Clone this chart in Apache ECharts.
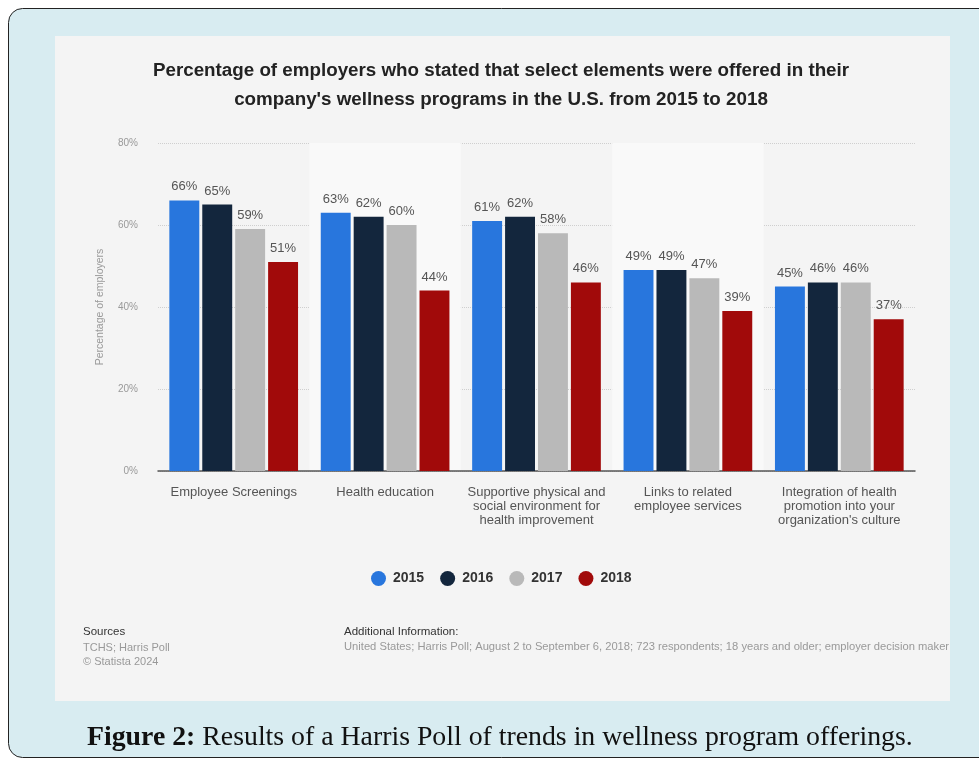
<!DOCTYPE html>
<html>
<head>
<meta charset="utf-8">
<script src="https://cdn.jsdelivr.net/npm/echarts@6/dist/echarts.min.js"></script>
<style>
html,body{margin:0;padding:0;background:#fff;}
#c{width:979px;height:761px;}
</style>
</head>
<body>
<div id="c"></div>
<script>
const categories = [
  "Employee Screenings",
  "Health education",
  "Supportive physical and\nsocial environment for\nhealth improvement",
  "Links to related\nemployee services",
  "Integration of health\npromotion into your\norganization's culture"
];
const seriesNames = ["2015", "2016", "2017", "2018"];
const values2015 = [66, 63, 61, 49, 45];
const values2016 = [65, 62, 62, 49, 46];
const values2017 = [59, 60, 58, 47, 46];
const values2018 = [51, 44, 46, 39, 37];
const yTicks = [0, 20, 40, 60, 80];
const colors = ["#2876dd", "#13263d", "#b9b9b9", "#a10a0a"];
const allValues = [values2015, values2016, values2017, values2018];

const FF = 'Liberation Sans, Arial, sans-serif';
const chart = echarts.init(document.getElementById('c'));
const series = seriesNames.map((n, i) => ({
  name: n,
  type: 'bar',
  data: allValues[i],
  barGap: '10%',
  barCategoryGap: '15%',
  itemStyle: { color: colors[i] },
  label: {
    show: true, position: 'top', distance: 7,
    formatter: '{c}%', color: '#555', fontSize: 13, fontFamily: FF
  }
}));

chart.setOption({
  animation: false,
  backgroundColor: '#ffffff',
  textStyle: { fontFamily: FF },
  graphic: [
    { type: 'rect', z: -10, shape: { x: 8.5, y: 8.5, width: 1000, height: 749, r: 14 },
      style: { fill: '#d8ecf1', stroke: '#222', lineWidth: 1 } },
    { type: 'rect', z: -9, shape: { x: 55, y: 36, width: 895, height: 665 },
      style: { fill: '#f4f4f4' } },
    { type: 'text', left: 83, top: 626, style: { text: 'Sources', fill: '#333', fontSize: 11.5, fontFamily: FF } },
    { type: 'text', left: 83, top: 641, style: { text: 'TCHS; Harris Poll\n© Statista 2024', fill: '#999', fontSize: 11, lineHeight: 14, fontFamily: FF } },
    { type: 'text', left: 344, top: 626, style: { text: 'Additional Information:', fill: '#333', fontSize: 11.5, fontFamily: FF } },
    { type: 'text', left: 344, top: 641, style: { text: 'United States; Harris Poll; August 2 to September 6, 2018; 723 respondents; 18 years and older; employer decision maker', fill: '#999', fontSize: 11.2, fontFamily: FF } },
    { type: 'text', left: 87, top: 724, style: {
        rich: {
          b: { fontFamily: 'Liberation Serif, DejaVu Serif, serif', fontWeight: 'bold', fontSize: 27.8, fill: '#111' },
          n: { fontFamily: 'Liberation Serif, DejaVu Serif, serif', fontSize: 27.8, fill: '#111' }
        },
        text: '{b|Figure 2:}{n| Results of a Harris Poll of trends in wellness program offerings.}'
      } }
  ],
  title: {
    text: "Percentage of employers who stated that select elements were offered in their\ncompany's wellness programs in the U.S. from 2015 to 2018",
    left: 496, textAlign: 'center', top: 51,
    textStyle: { fontSize: 18.8, fontWeight: 'bold', color: '#222', lineHeight: 29, fontFamily: FF }
  },
  legend: {
    data: seriesNames, top: 566, left: 366, icon: 'circle',
    itemWidth: 15, itemHeight: 15, itemGap: 16,
    textStyle: { fontSize: 14, fontWeight: 'bold', color: '#333', padding: [0, 0, 0, 2] }
  },
  grid: { left: 158, right: 64, top: 143, bottom: 290 },
  xAxis: {
    type: 'category', data: categories,
    axisTick: { show: false },
    axisLine: { lineStyle: { color: '#555', width: 1.5 } },
    axisLabel: { color: '#555', fontSize: 13, lineHeight: 14, margin: 14, interval: 0 },
    splitArea: { show: true, areaStyle: { color: ['rgba(0,0,0,0)', '#f9f9f9'] } }
  },
  yAxis: {
    type: 'value', min: 0, max: 80, interval: 20,
    name: 'Percentage of employers', nameLocation: 'middle', nameGap: 52,
    nameTextStyle: { color: '#999', fontSize: 10.5 },
    axisLabel: { formatter: v => yTicks.includes(v) ? v + '%' : '', color: '#999', fontSize: 10, margin: 20 },
    axisLine: { show: false }, axisTick: { show: false },
    splitLine: { lineStyle: { color: '#cfcfcf', type: 'dotted' } }
  },
  series: series
});
</script>
</body>
</html>
